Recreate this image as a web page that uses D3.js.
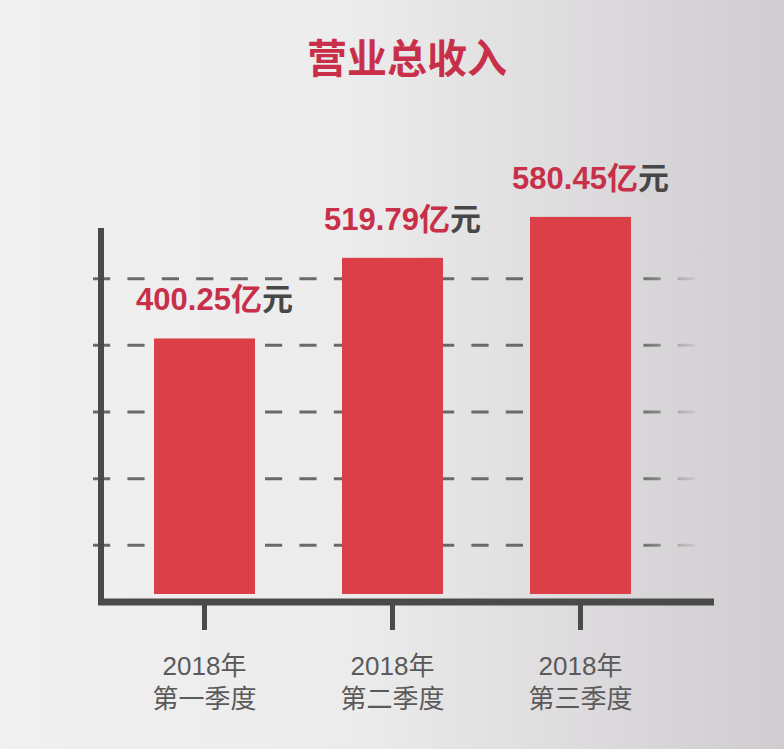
<!DOCTYPE html>
<html>
<head>
<meta charset="utf-8">
<script src="https://cdn.jsdelivr.net/npm/d3@7"></script>
<style>
  body { margin: 0; }
  svg { display: block; }
</style>
</head>
<body>
<svg id="chart"></svg>
<script>
const quarters = ["第一季度", "第二季度", "第三季度"];
const years = ["2018年", "2018年", "2018年"];
const revenue = [400.25, 519.79, 580.45];
const gridTicks = [100, 200, 300, 400, 500];

const width = 784, height = 749;
const baseY = 602;      // x axis line
const axisLeft = 101;

const svg = d3.select("#chart")
    .attr("width", width)
    .attr("height", height);

// background gradient
const defs = svg.append("defs");
const bg = defs.append("linearGradient").attr("id", "bg")
    .attr("x1", "0%").attr("x2", "100%").attr("y1", "0%").attr("y2", "0%");
bg.append("stop").attr("offset", "0%").attr("stop-color", "#f1f0f1");
bg.append("stop").attr("offset", "45%").attr("stop-color", "#ececec");
bg.append("stop").attr("offset", "100%").attr("stop-color", "#d0ccd0");

// dashed grid fades out at the right end
const gridFade = defs.append("linearGradient").attr("id", "gridFade")
    .attr("gradientUnits", "userSpaceOnUse")
    .attr("x1", 640).attr("x2", 695).attr("y1", 0).attr("y2", 0);
gridFade.append("stop").attr("offset", "0%").attr("stop-color", "#6a6a6a").attr("stop-opacity", 1);
gridFade.append("stop").attr("offset", "100%").attr("stop-color", "#6a6a6a").attr("stop-opacity", 0.1);

svg.append("rect")
    .attr("width", width).attr("height", height)
    .attr("fill", "url(#bg)");

const xScale = d3.scalePoint()
    .domain(quarters)
    .range([204.5, 580.5]);

// bars (infographic scale, fitted to the picture)
const yScale = d3.scaleLinear()
    .domain([0, 600])
    .range([608.5, 203.7]);

// gridlines are evenly spaced, own scale
const gridScale = d3.scaleLinear()
    .domain([0, 600])
    .range([612, 212]);

const barWidth = 101;

// gridlines
svg.append("g")
  .selectAll("line")
  .data(gridTicks)
  .enter().append("line")
    .attr("x1", 93)
    .attr("x2", 695)
    .attr("y1", d => gridScale(d))
    .attr("y2", d => gridScale(d))
    .attr("stroke", "url(#gridFade)")
    .attr("stroke-width", 3)
    .attr("stroke-dasharray", "17.2 17.2");

// bars
svg.append("g")
  .selectAll("rect")
  .data(revenue)
  .enter().append("rect")
    .attr("x", (d, i) => xScale(quarters[i]) - barWidth / 2)
    .attr("y", d => yScale(d))
    .attr("width", barWidth)
    .attr("height", d => baseY - 8 - yScale(d))
    .attr("fill", "#db3f48");

// axes
const axisColor = "#4a4a4a";
svg.append("line")
    .attr("x1", axisLeft).attr("x2", axisLeft)
    .attr("y1", 228).attr("y2", baseY + 3)
    .attr("stroke", axisColor).attr("stroke-width", 6);
svg.append("line")
    .attr("x1", axisLeft - 3).attr("x2", 714)
    .attr("y1", baseY).attr("y2", baseY)
    .attr("stroke", axisColor).attr("stroke-width", 7);

svg.append("g")
  .selectAll("line")
  .data(quarters)
  .enter().append("line")
    .attr("x1", d => xScale(d)).attr("x2", d => xScale(d))
    .attr("y1", baseY).attr("y2", 630)
    .attr("stroke", axisColor).attr("stroke-width", 5);

// value labels
const fontFam = "'Liberation Sans', Arial, 'Noto Sans CJK SC', sans-serif";
const vals = svg.append("g")
  .selectAll("text")
  .data(revenue)
  .enter().append("text")
    .attr("x", (d, i) => xScale(quarters[i]) + 10)
    .attr("y", d => yScale(d) - 28)
    .attr("text-anchor", "middle")
    .style("font-family", fontFam)
    .style("font-weight", "bold")
    .style("font-size", "31px");
vals.append("tspan").attr("fill", "#c8304a").text(d => d.toFixed(2) + "亿");
vals.append("tspan").attr("fill", "#474747").text("元");

// category labels
const cats = svg.append("g")
  .selectAll("text")
  .data(quarters)
  .enter().append("text")
    .attr("text-anchor", "middle")
    .style("font-family", fontFam)
    .style("font-size", "26px")
    .attr("fill", "#5a5a5a");
cats.append("tspan")
    .attr("x", d => xScale(d))
    .attr("y", 675)
    .text((d, i) => years[i]);
cats.append("tspan")
    .attr("x", d => xScale(d))
    .attr("y", 708)
    .text(d => d);

// title
svg.append("text")
    .attr("x", 407)
    .attr("y", 73)
    .attr("text-anchor", "middle")
    .style("font-family", "'Noto Sans CJK SC', sans-serif")
    .style("font-weight", "bold")
    .style("font-size", "40px")
    .attr("fill", "#c8304a")
    .text("营业总收入");
</script>
</body>
</html>
